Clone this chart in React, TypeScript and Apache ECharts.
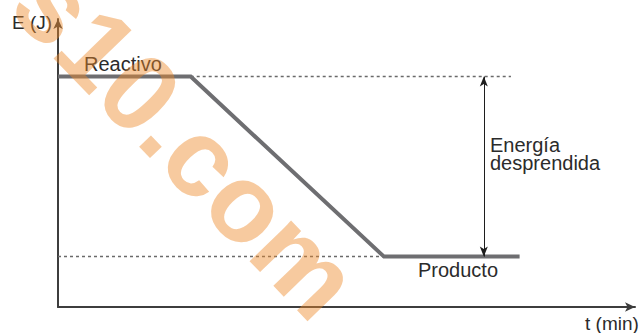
import React, { useEffect, useRef } from "react";
import * as echarts from "echarts";

// ---- data (time in arbitrary units, energy in arbitrary units) ----
const timePoints = [0, 2.3, 5.65, 8.0];
const energyPoints = [8.0, 8.0, 1.75, 1.75];
const reactantLevel = 8.0;
const productLevel = 1.75;
const topGuideRange = [2.3, 7.85];
const bottomGuideRange = [0, 5.65];
const releasedArrowTime = 7.38;
const axisMaxT = 10;
const axisMaxE = 10;

const yAxisName = "E (J)";
const xAxisName = "t (min)";
const reactantLabel = "Reactivo";
const productLabel = "Producto";
const releasedLabel = "Energía\ndesprendida";
const watermarkText = "s10.com";

const FONT = "'Liberation Sans', Arial, sans-serif";

export default function App() {
  const ref = useRef<HTMLDivElement>(null);

  useEffect(() => {
    if (!ref.current) return;
    const chart = echarts.init(ref.current, null, { renderer: "svg" });

    const profile = timePoints.map((t, i) => [t, energyPoints[i]]);
    const topGuide = topGuideRange.map((t) => [t, reactantLevel]);
    const bottomGuide = bottomGuideRange.map((t) => [t, productLevel]);

    const txt = (text: string, x: number, baseline: number, size = 20) => ({
      type: "text",
      x,
      y: baseline - size * 0.35,
      silent: true,
      z: 50,
      style: {
        text,
        fill: "#2b2b2b",
        font: `${size}px ${FONT}`,
        align: "left",
        verticalAlign: "middle",
      },
    });

    chart.setOption({
      animation: false,
      backgroundColor: "#ffffff",
      grid: { left: 58, top: 19, width: 577, height: 288 },
      xAxis: {
        type: "value",
        min: 0,
        max: axisMaxT,
        axisLine: {
          show: true,
          symbol: ["none", "arrow"],
          symbolSize: [7, 10],
          lineStyle: { color: "#3d3d3d", width: 2 },
        },
        axisTick: { show: false },
        axisLabel: { show: false },
        splitLine: { show: false },
      },
      yAxis: {
        type: "value",
        min: 0,
        max: axisMaxE,
        axisLine: {
          show: true,
          symbol: ["none", "arrow"],
          symbolSize: [7, 10],
          lineStyle: { color: "#3d3d3d", width: 2 },
        },
        axisTick: { show: false },
        axisLabel: { show: false },
        splitLine: { show: false },
      },
      series: [
        {
          type: "line",
          data: topGuide,
          symbol: "none",
          silent: true,
          lineStyle: { color: "#6a6a6a", width: 1.5, type: [3, 3] },
          z: 2,
        },
        {
          type: "line",
          data: bottomGuide,
          symbol: "none",
          silent: true,
          lineStyle: { color: "#6a6a6a", width: 1.5, type: [3, 3] },
          z: 2,
        },
        {
          type: "line",
          data: profile,
          symbol: "none",
          silent: true,
          lineStyle: { color: "#6e6e71", width: 4, join: "miter" },
          z: 3,
          markLine: {
            silent: true,
            symbol: ["arrow", "arrow"],
            symbolSize: [6, 10],
            label: { show: false },
            lineStyle: { color: "#1e1e1e", width: 1, type: "solid" },
            data: [
              [
                { coord: [releasedArrowTime, reactantLevel] },
                { coord: [releasedArrowTime, productLevel] },
              ],
            ],
          },
        },
      ],
      graphic: [
        txt(yAxisName, 12, 29, 19),
        txt(reactantLabel, 84, 71),
        {
          type: "text",
          x: 490,
          y: 135.3,
          silent: true,
          z: 50,
          style: {
            text: releasedLabel,
            fill: "#2b2b2b",
            font: `20px ${FONT}`,
            lineHeight: 18.5,
            align: "left",
            verticalAlign: "top",
          },
        },
        txt(productLabel, 418, 277),
        txt(xAxisName, 585, 330, 19),
        {
          type: "text",
          x: 187,
          y: 141,
          rotation: (-46 * Math.PI) / 180,
          silent: true,
          z: 100,
          style: {
            text: watermarkText,
            fill: "rgba(238,138,42,0.45)",
            font: `bold 110px ${FONT}`,
            align: "center",
            verticalAlign: "middle",
          },
        },
      ],
    });

    return () => chart.dispose();
  }, []);

  return (
    <div
      ref={ref}
      style={{ position: "fixed", left: 0, top: 0, width: 640, height: 333 }}
    />
  );
}
